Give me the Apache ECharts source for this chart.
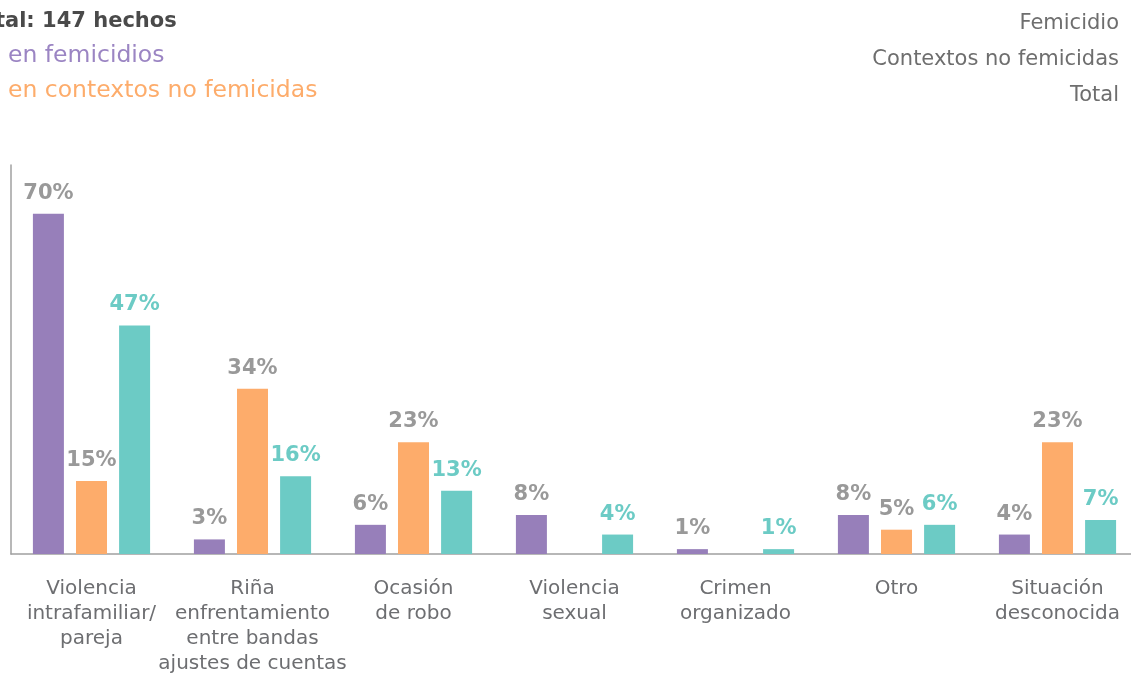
<!DOCTYPE html>
<html>
<head>
<meta charset="utf-8">
<script src="https://cdn.jsdelivr.net/npm/echarts@6/dist/echarts.min.js"></script>
<style>
  html, body { margin: 0; padding: 0; background: #ffffff; }
  #chart { width: 1131px; height: 674px; }
</style>
</head>
<body>
<div id="chart"></div>
<script>
// Contexto de los hechos, en porcentaje por tipo de caso
const categories = [
  'Violencia\nintrafamiliar/\npareja',
  'Riña\nenfrentamiento\nentre bandas\najustes de cuentas',
  'Ocasión\nde robo',
  'Violencia\nsexual',
  'Crimen\norganizado',
  'Otro',
  'Situación\ndesconocida'
];
const femicidio = [70, 3, 6, 8, 1, 8, 4];
const noFemicida = [15, 34, 23, 0, 0, 5, 23];
const total = [47, 16, 13, 4, 1, 6, 7];

const seriesNames = ['Femicidio', 'Contextos no femicidas', 'Total'];
const titleText = 'Total: 147 hechos';
const subLines = ['en femicidios', 'en contextos no femicidas'];

const FONT = '"DejaVu Sans", "Noto Sans", sans-serif';
const PURPLE = '#977fba';
const ORANGE = '#fdac6b';
const TEAL = '#6ccbc5';
const GRAY_LABEL = '#999999';

function pctLabel(color) {
  return {
    show: true,
    position: 'top',
    distance: 10,
    color: color,
    fontFamily: FONT,
    fontWeight: 'bold',
    fontSize: 21,
    formatter: p => (p.value ? p.value + '%' : '')
  };
}

const chart = echarts.init(document.getElementById('chart'));
chart.setOption({
  backgroundColor: '#ffffff',
  animation: false,
  textStyle: { fontFamily: FONT },
  graphic: [
    { type: 'text', left: -31, top: 11, style: { text: titleText, fill: '#4a4a4a', font: 'bold 21px ' + FONT } },
    { type: 'text', left: 8, top: 44, style: { text: subLines[0], fill: '#9b85c3', font: '23.5px ' + FONT } },
    { type: 'text', left: 8, top: 79, style: { text: subLines[1], fill: ORANGE, font: '23.5px ' + FONT } }
  ],
  legend: {
    data: seriesNames,
    orient: 'vertical',
    right: 2,
    top: 8,
    align: 'right',
    itemGap: 15,
    itemWidth: 0,
    itemHeight: 0,
    itemStyle: { opacity: 0 },
    textStyle: { color: '#6e6e6e', fontSize: 21, fontFamily: FONT, padding: [0, 0, 0, 0] },
    selectedMode: false
  },
  grid: { left: 11, top: 165, width: 1127, height: 389, outerBoundsMode: 'none', containLabel: false },
  xAxis: {
    type: 'category',
    data: categories,
    axisLine: { show: true, lineStyle: { color: '#a0a0a0', width: 1.5 } },
    axisTick: { show: false },
    axisLabel: {
      color: '#6d6e71',
      fontSize: 20,
      lineHeight: 25,
      margin: 22,
      interval: 0,
      fontFamily: FONT
    }
  },
  yAxis: {
    type: 'value',
    min: 0,
    max: 80,
    axisLine: { show: true, lineStyle: { color: '#a0a0a0', width: 1.5 } },
    axisTick: { show: false },
    axisLabel: { show: false },
    splitLine: { show: false }
  },
  series: [
    { name: seriesNames[0], type: 'bar', data: femicidio, barWidth: 31, barGap: '39%',
      itemStyle: { color: PURPLE }, label: pctLabel(GRAY_LABEL) },
    { name: seriesNames[1], type: 'bar', data: noFemicida, barWidth: 31, barGap: '39%',
      itemStyle: { color: ORANGE }, label: pctLabel(GRAY_LABEL) },
    { name: seriesNames[2], type: 'bar', data: total, barWidth: 31, barGap: '39%',
      itemStyle: { color: TEAL }, label: pctLabel(TEAL) }
  ]
});
</script>
</body>
</html>
